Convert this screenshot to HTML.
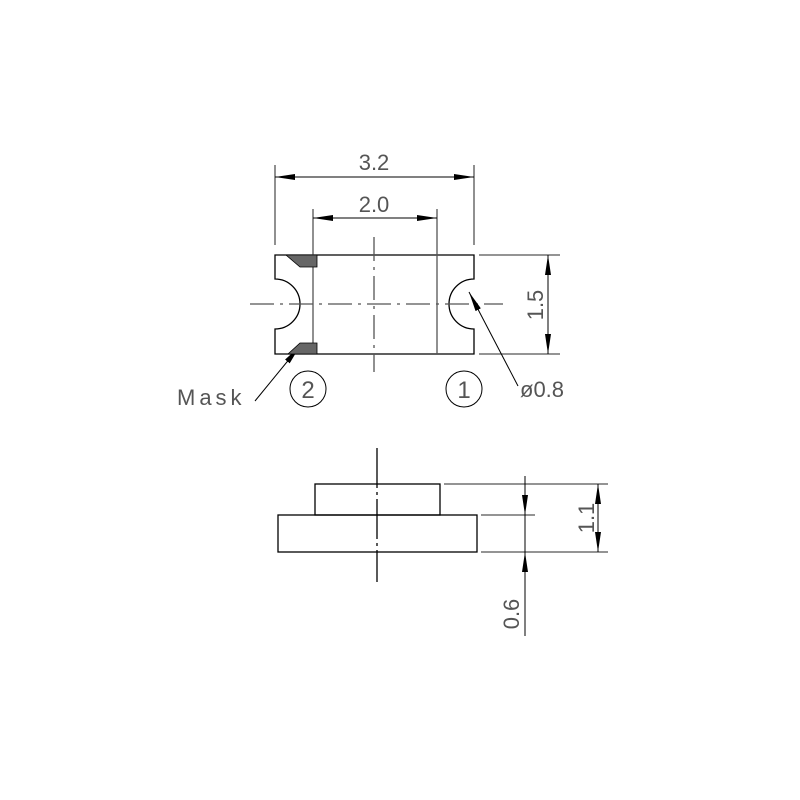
<!DOCTYPE html>
<html><head><meta charset="utf-8"><style>
html,body{margin:0;padding:0;background:#fff;}
svg{display:block;}
text{font-family:"Liberation Sans",sans-serif;fill:#555;font-weight:100;}
</style></head><body>
<svg width="800" height="800" viewBox="0 0 800 800" xmlns="http://www.w3.org/2000/svg">
<defs>
<marker id="a" viewBox="0 0 20 6" refX="20" refY="3" markerWidth="20" markerHeight="6" markerUnits="userSpaceOnUse" orient="auto-start-reverse"><path d="M0,0L20,3L0,6Z" fill="#000"/></marker>
</defs>
<g stroke="#000" stroke-width="1.3" fill="none">
<path d="M275,255 H474 V279 A25,25 0 0 0 474,329 V354 H275 V329 A25,25 0 0 0 275,279 Z"/>
<line x1="313" y1="209" x2="313" y2="354" stroke="#555"/>
<line x1="437" y1="209" x2="437" y2="354" stroke="#555"/>
<line x1="275" y1="165" x2="275" y2="245" stroke="#555"/>
<line x1="474" y1="165" x2="474" y2="245" stroke="#555"/>
<line x1="374" y1="237" x2="374" y2="372" stroke="#555" stroke-dasharray="24,6,3,6"/>
<line x1="250" y1="304" x2="503" y2="304" stroke="#555" stroke-dasharray="24,6,3,6"/>
<line x1="275" y1="177" x2="474" y2="177" stroke-width="1" marker-start="url(#a)" marker-end="url(#a)"/>
<line x1="313" y1="218" x2="437" y2="218" stroke-width="1" marker-start="url(#a)" marker-end="url(#a)"/>
<line x1="479" y1="255" x2="560" y2="255" stroke="#555"/>
<line x1="479" y1="354" x2="560" y2="354" stroke="#555"/>
<line x1="548" y1="255" x2="548" y2="354" stroke-width="1" marker-start="url(#a)" marker-end="url(#a)"/>
<circle cx="308" cy="389" r="18" stroke-width="1"/>
<circle cx="464" cy="389" r="18" stroke-width="1"/>
<line x1="255" y1="401" x2="300" y2="346" stroke-width="1" marker-end="url(#a)"/>
<line x1="518" y1="386" x2="469" y2="292" stroke-width="1" marker-end="url(#a)"/>
<rect x="315" y="484" width="125" height="31"/>
<rect x="278" y="515" width="199" height="37"/>
<line x1="377" y1="448" x2="377" y2="582" stroke-dasharray="40,4,3,4"/>
<line x1="444" y1="484" x2="608" y2="484" stroke="#555"/>
<line x1="481" y1="515" x2="535" y2="515" stroke="#555"/>
<line x1="481" y1="552" x2="608" y2="552" stroke="#555"/>
<line x1="525" y1="476" x2="525" y2="636" stroke-width="1"/>
<line x1="525" y1="490" x2="525" y2="515" stroke-width="1" marker-end="url(#a)"/>
<line x1="525" y1="577" x2="525" y2="552" stroke-width="1" marker-end="url(#a)"/>
<line x1="598" y1="484" x2="598" y2="552" stroke-width="1" marker-start="url(#a)" marker-end="url(#a)"/>
</g>
<path d="M286,255 H317 V267 H300 Z" fill="#666" stroke="#000" stroke-width="0.8"/>
<path d="M300,343 H317 V354 H288 Z" fill="#666" stroke="#000" stroke-width="0.8"/>
<text x="374" y="170" font-size="22" text-anchor="middle">3.2</text>
<text x="374" y="212" font-size="22" text-anchor="middle">2.0</text>
<text x="308" y="398" font-size="24" text-anchor="middle">2</text>
<text x="464" y="398" font-size="24" text-anchor="middle">1</text>
<text x="177" y="405" font-size="22" letter-spacing="4">Mask</text>
<text x="520" y="397" font-size="22">ø0.8</text>
<text transform="translate(543,305) rotate(-90)" font-size="22" text-anchor="middle">1.5</text>
<text transform="translate(594,518) rotate(-90)" font-size="22" text-anchor="middle">1.1</text>
<text transform="translate(519,614) rotate(-90)" font-size="22" text-anchor="middle">0.6</text>
</svg>
</body></html>
